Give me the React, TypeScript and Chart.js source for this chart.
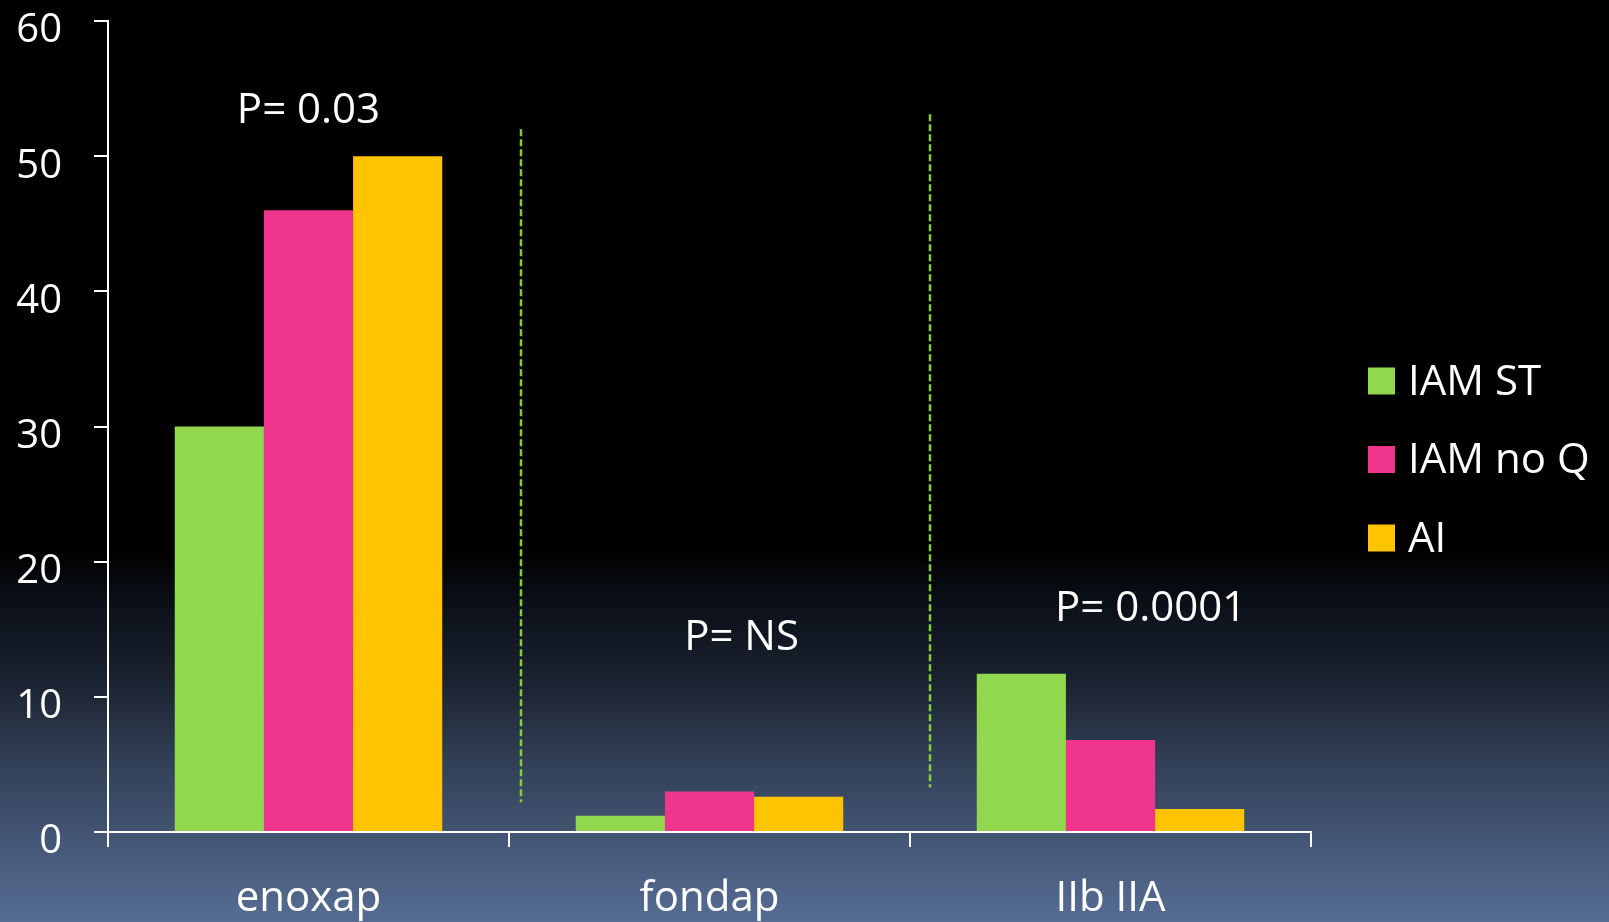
import React, { useEffect, useRef } from "react";
import { Chart, registerables } from "chart.js";

Chart.register(...registerables);

const categories = ["enoxap", "fondap", "IIb IIA"];
const seriesNames = ["IAM ST", "IAM no Q", "AI"];
const iamST = [30, 1.2, 11.7];
const iamNoQ = [46, 3.0, 6.8];
const ai = [50, 2.6, 1.7];
const seriesColors = ["#92d84e", "#f0358c", "#ffc400"];

const pLabels = ["P= 0.03", "P= NS", "P= 0.0001"];
const pLabelX = [0.0, 1.08, 2.1];
const pLabelY = [53.35, 14.35, 16.5];

const dividerX = [0.53, 1.55];
const dividerTop = [52, 53.1];
const dividerBottom = [2.2, 3.3];

const FONT = "'Open Sans', 'Noto Sans', sans-serif";

const backgroundPlugin = {
  id: "bgGradient",
  beforeDraw(chart: any) {
    const { ctx, width, height } = chart;
    const g = ctx.createLinearGradient(0, 0, 0, height);
    g.addColorStop(0, "#000000");
    g.addColorStop(0.6, "#000000");
    g.addColorStop(0.65, "#0a0f17");
    g.addColorStop(0.74, "#1b2331");
    g.addColorStop(0.835, "#34425a");
    g.addColorStop(0.94, "#4a5e80");
    g.addColorStop(1, "#566c93");
    ctx.save();
    ctx.fillStyle = g;
    ctx.fillRect(0, 0, width, height);
    ctx.restore();
  },
};

const overlayPlugin = {
  id: "overlay",
  afterDatasetsDraw(chart: any) {
    const { ctx, scales, chartArea } = chart;
    const xs = scales.x;
    const ys = scales.y;
    ctx.save();
    // dashed dividers
    ctx.strokeStyle = "#84cc3c";
    ctx.lineWidth = 2.5;
    ctx.setLineDash([7, 3]);
    dividerX.forEach((v, i) => {
      const px = Math.round(xs.getPixelForValue(v));
      ctx.beginPath();
      ctx.moveTo(px, ys.getPixelForValue(dividerTop[i]));
      ctx.lineTo(px, ys.getPixelForValue(dividerBottom[i]));
      ctx.stroke();
    });
    ctx.setLineDash([]);
    // p-value labels
    ctx.fillStyle = "#ffffff";
    ctx.font = `42px ${FONT}`;
    ctx.textAlign = "center";
    ctx.textBaseline = "middle";
    pLabels.forEach((t, i) => {
      ctx.fillText(t, xs.getPixelForValue(pLabelX[i]), ys.getPixelForValue(pLabelY[i]));
    });
    // legend
    const lx = chartArea.right + 57;
    const ly0 = 381;
    const step = 78.5;
    ctx.textAlign = "left";
    chart.data.datasets.forEach((ds: any, i: number) => {
      const cy = ly0 + i * step;
      ctx.fillStyle = ds.backgroundColor;
      ctx.fillRect(lx, cy - 13.5, 27, 27);
      ctx.fillStyle = "#ffffff";
      ctx.fillText(ds.label, lx + 40, cy + 2);
    });
    ctx.restore();
  },
};

export default function App() {
  const ref = useRef<HTMLCanvasElement>(null);
  useEffect(() => {
    if (!ref.current) return;
    const chart = new Chart(ref.current, {
      type: "bar",
      data: {
        labels: categories,
        datasets: [
          { label: seriesNames[0], data: iamST, backgroundColor: seriesColors[0] },
          { label: seriesNames[1], data: iamNoQ, backgroundColor: seriesColors[1] },
          { label: seriesNames[2], data: ai, backgroundColor: seriesColors[2] },
        ],
      },
      options: {
        animation: false,
        responsive: false,
        categoryPercentage: 0.667,
        barPercentage: 1.0,
        layout: { padding: { top: 21, right: 298, bottom: 0, left: 0 } },
        plugins: {
          legend: { display: false },
          tooltip: { enabled: false },
        },
        scales: {
          x: {
            grid: {
              offset: true,
              drawOnChartArea: false,
              drawTicks: true,
              tickLength: 15,
              color: "#ffffff",
              lineWidth: 2,
            },
            border: { display: true, color: "#ffffff", width: 2 },
            ticks: {
              color: "#ffffff",
              font: { family: FONT, size: 42 },
              padding: 27,
              maxRotation: 0,
            },
            afterFit(scale: any) {
              scale.height = 90;
            },
          },
          y: {
            min: 0,
            max: 60,
            grid: {
              drawOnChartArea: false,
              drawTicks: true,
              tickLength: 14,
              color: "#ffffff",
              lineWidth: 2,
            },
            border: { display: true, color: "#ffffff", width: 2 },
            ticks: {
              stepSize: 10,
              color: "#ffffff",
              font: { family: FONT, size: 40, lineHeight: 1 },
              padding: 32,
              labelOffset: 10,
            },
            afterFit(scale: any) {
              scale.width = 108;
              scale.paddingTop = 0;
              scale.paddingBottom = 0;
            },
          },
        },
      },
      plugins: [backgroundPlugin, overlayPlugin],
    });
    return () => chart.destroy();
  }, []);
  return (
    <div style={{ position: "absolute", left: 0, top: 0, width: 1609, height: 922, background: "#000" }}>
      <canvas ref={ref} width={1609} height={922} style={{ display: "block" }} />
    </div>
  );
}
